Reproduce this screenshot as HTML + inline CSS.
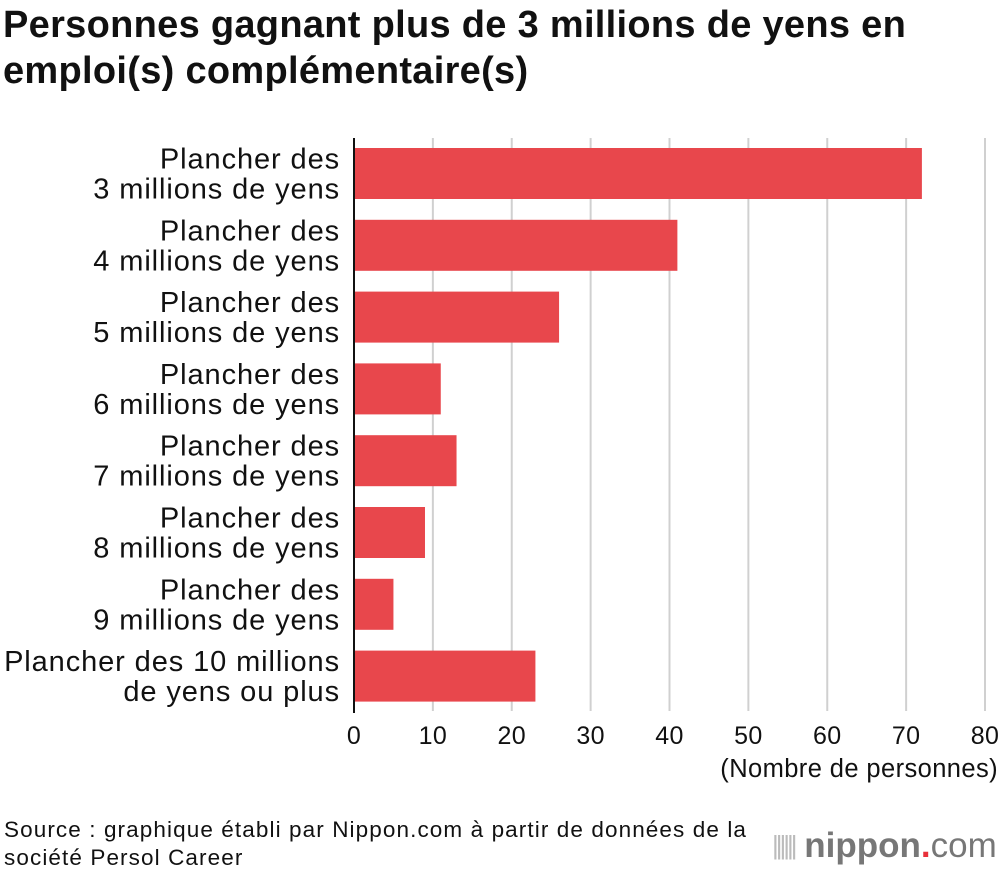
<!DOCTYPE html>
<html><head><meta charset="utf-8">
<style>
body{margin:0;background:#fff;width:1000px;height:870px;overflow:hidden;font-family:"Liberation Sans",Arial,sans-serif;}
#title{position:absolute;left:3px;top:2px;font-size:38px;font-weight:bold;line-height:46px;color:#111;letter-spacing:0.3px;margin:0}
#src{position:absolute;left:4px;top:816px;font-size:22.5px;line-height:28px;color:#111;letter-spacing:1.1px}
#logo{position:absolute;left:772px;top:826px;font-size:35px;color:#777;font-weight:bold}
</style></head><body>
<h1 id="title">Personnes gagnant plus de 3 millions de yens en<br>emploi(s) complémentaire(s)</h1>
<svg id="chart" width="1000" height="870" style="position:absolute;left:0;top:0"></svg>
<div id="src">Source : graphique établi par Nippon.com à partir de données de la<br>société Persol Career</div>
<div id="logo"><span style="color:#bbb;font-weight:normal;font-size:26px;letter-spacing:-3px;vertical-align:3px">||||||</span> nippon<span style="color:#e8303a">.</span><span style="font-weight:normal">com</span></div>
<script>
const categories=[["Plancher des","3 millions de yens"],["Plancher des","4 millions de yens"],["Plancher des","5 millions de yens"],["Plancher des","6 millions de yens"],["Plancher des","7 millions de yens"],["Plancher des","8 millions de yens"],["Plancher des","9 millions de yens"],["Plancher des 10 millions","de yens ou plus"]];
const values=[72,41,26,11,13,9,5,23];
const ticks=[0,10,20,30,40,50,60,70,80];
const axisLabel="(Nombre de personnes)";
const NS="http://www.w3.org/2000/svg";
const svg=document.getElementById('chart');
const x0=354,x1=985,xmax=80,yTop=138,pitch=71.8,barH=51,barOff=10;
const xs=v=>x0+(v/xmax)*(x1-x0);
const ys=i=>yTop+barOff+i*pitch;
function mk(t,a){const e=document.createElementNS(NS,t);for(const k in a)e.setAttribute(k,a[k]);svg.appendChild(e);return e;}
ticks.forEach(t=>{
 if(t>0){const g=mk('line',{x1:xs(t),x2:xs(t),y1:yTop,y2:711,stroke:'#d0d0d0','stroke-width':2});
 
 }
 const l=mk('text',{x:xs(t),y:744,'text-anchor':'middle','font-size':25,fill:'#111','letter-spacing':0.3});
 l.textContent=t;
 
 
});
values.forEach((v,i)=>{
 const r=mk('rect',{x:x0,y:ys(i),width:xs(v)-x0,height:barH,fill:'#e8474c'});
 
 
 const c=ys(i)+barH/2;
 categories[i].forEach((s,j)=>{
  const t=mk('text',{x:340,y:c-5+j*30,'text-anchor':'end','font-size':29,fill:'#111','letter-spacing':0.9});
  t.textContent=s;
  
  
 });
});
const ax=mk('line',{x1:x0,x2:x0,y1:yTop,y2:713,stroke:'#111','stroke-width':2});


const at=mk('text',{x:998,y:777,'text-anchor':'end','font-size':25.5,fill:'#111','letter-spacing':0.4});
at.textContent=axisLabel;


</script>
</body></html>
